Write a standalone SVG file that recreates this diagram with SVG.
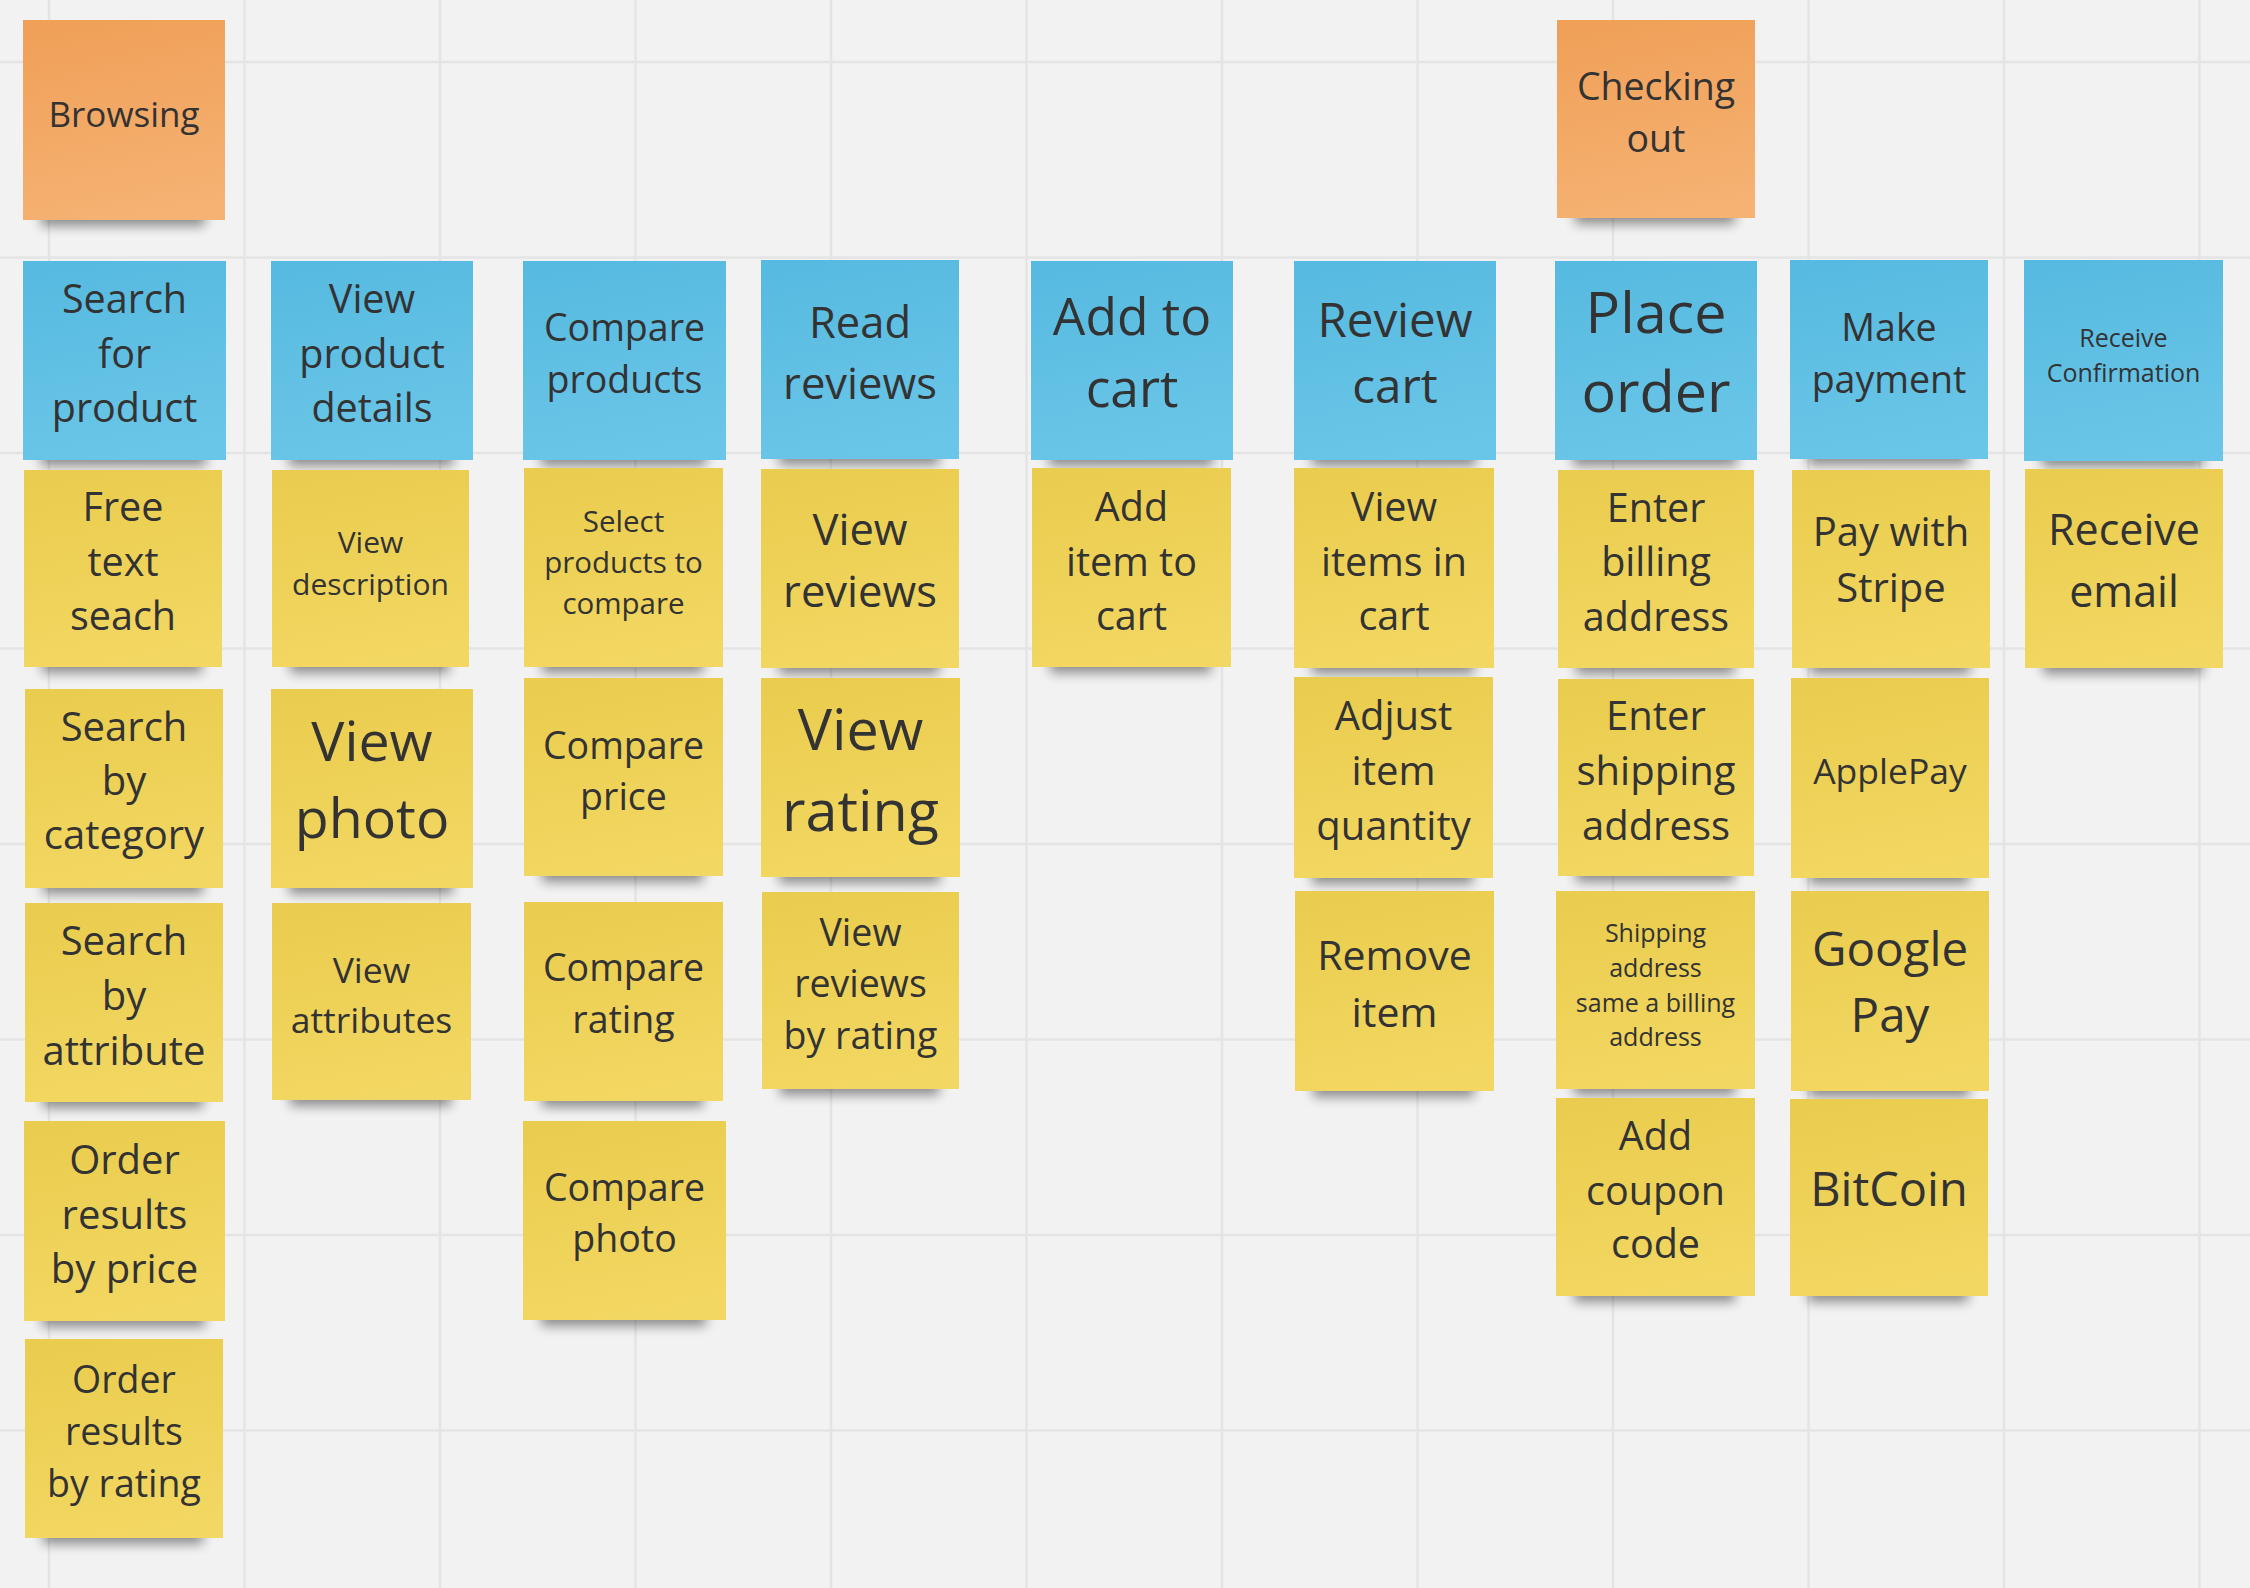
<svg xmlns="http://www.w3.org/2000/svg" width="2250" height="1588" viewBox="0 0 2250 1588">
<defs>
<linearGradient id="gO" x1="0.3" y1="0" x2="0.5" y2="1"><stop offset="0" stop-color="#f0a058"/><stop offset="1" stop-color="#f5b273"/></linearGradient>
<linearGradient id="gB" x1="0.3" y1="0" x2="0.5" y2="1"><stop offset="0" stop-color="#57bae0"/><stop offset="1" stop-color="#6ac6e8"/></linearGradient>
<linearGradient id="gY" x1="0.3" y1="0" x2="0.5" y2="1"><stop offset="0" stop-color="#eacd4e"/><stop offset="1" stop-color="#f2d762"/></linearGradient>
<filter id="blur" x="-20%" y="-100%" width="140%" height="300%"><feGaussianBlur stdDeviation="6"/></filter>
</defs>
<style>
.bg{fill:#f2f2f2}
.grid line{stroke:#e4e4e4;stroke-width:2.5}
.o{fill:url(#gO)}
.b{fill:url(#gB)}
.y{fill:url(#gY)}
.sh{fill:#000;opacity:.42;filter:url(#blur)}
text{font-family:"Open Sans","Noto Sans","DejaVu Sans",sans-serif;fill:#333;text-anchor:middle}
</style>
<rect class="bg" x="0" y="0" width="2250" height="1588"/>
<g class="grid">
<line x1="49" y1="0" x2="49" y2="1588"/>
<line x1="244.5" y1="0" x2="244.5" y2="1588"/>
<line x1="440" y1="0" x2="440" y2="1588"/>
<line x1="635.5" y1="0" x2="635.5" y2="1588"/>
<line x1="831" y1="0" x2="831" y2="1588"/>
<line x1="1026.5" y1="0" x2="1026.5" y2="1588"/>
<line x1="1222" y1="0" x2="1222" y2="1588"/>
<line x1="1417.5" y1="0" x2="1417.5" y2="1588"/>
<line x1="1613" y1="0" x2="1613" y2="1588"/>
<line x1="1808.5" y1="0" x2="1808.5" y2="1588"/>
<line x1="2004" y1="0" x2="2004" y2="1588"/>
<line x1="2199.5" y1="0" x2="2199.5" y2="1588"/>
<line x1="0" y1="62" x2="2250" y2="62"/>
<line x1="0" y1="257.5" x2="2250" y2="257.5"/>
<line x1="0" y1="453" x2="2250" y2="453"/>
<line x1="0" y1="648.5" x2="2250" y2="648.5"/>
<line x1="0" y1="844" x2="2250" y2="844"/>
<line x1="0" y1="1039.5" x2="2250" y2="1039.5"/>
<line x1="0" y1="1235" x2="2250" y2="1235"/>
<line x1="0" y1="1430.5" x2="2250" y2="1430.5"/>
</g>
<g id="connectors"/>

<g id="browsing"><rect class="sh" x="41" y="206" width="164" height="20"/><rect class="o" x="23" y="20" width="202" height="200"/><text font-size="35"><tspan x="124" y="127">Browsing</tspan></text></g>
<g id="checking-out"><rect class="sh" x="1575" y="204" width="160" height="20"/><rect class="o" x="1557" y="20" width="198" height="198"/><text font-size="37.5"><tspan x="1656" y="100">Checking</tspan><tspan x="1656" y="152">out</tspan></text></g>

<g id="search-for-product"><rect class="sh" x="41" y="446" width="165" height="20"/><rect class="b" x="23" y="261" width="203" height="199"/><text font-size="39.5"><tspan x="124.5" y="313">Search</tspan><tspan x="124.5" y="367.5">for</tspan><tspan x="124.5" y="422">product</tspan></text></g>
<g id="view-product-details"><rect class="sh" x="289" y="446" width="164" height="20"/><rect class="b" x="271" y="261" width="202" height="199"/><text font-size="39.5"><tspan x="372" y="313">View</tspan><tspan x="372" y="367.5">product</tspan><tspan x="372" y="422">details</tspan></text></g>
<g id="compare-products"><rect class="sh" x="541" y="446" width="165" height="20"/><rect class="b" x="523" y="261" width="203" height="199"/><text font-size="37.5"><tspan x="624.5" y="341">Compare</tspan><tspan x="624.5" y="393">products</tspan></text></g>
<g id="read-reviews"><rect class="sh" x="779" y="445" width="160" height="20"/><rect class="b" x="761" y="260" width="198" height="199"/><text font-size="43.5"><tspan x="860" y="338">Read</tspan><tspan x="860" y="399">reviews</tspan></text></g>
<g id="add-to-cart"><rect class="sh" x="1049" y="446" width="164" height="20"/><rect class="b" x="1031" y="261" width="202" height="199"/><text font-size="51.5"><tspan x="1132" y="335">Add to</tspan><tspan x="1132" y="407">cart</tspan></text></g>
<g id="review-cart"><rect class="sh" x="1312" y="446" width="164" height="20"/><rect class="b" x="1294" y="261" width="202" height="199"/><text font-size="47.5"><tspan x="1395" y="337">Review</tspan><tspan x="1395" y="403">cart</tspan></text></g>
<g id="place-order"><rect class="sh" x="1573" y="446" width="164" height="20"/><rect class="b" x="1555" y="261" width="202" height="199"/><text font-size="57.5"><tspan x="1656" y="333">Place</tspan><tspan x="1656" y="412">order</tspan></text></g>
<g id="make-payment"><rect class="sh" x="1808" y="445" width="160" height="20"/><rect class="b" x="1790" y="260" width="198" height="199"/><text font-size="37.5"><tspan x="1889" y="341">Make</tspan><tspan x="1889" y="393">payment</tspan></text></g>
<g id="receive-confirmation"><rect class="sh" x="2042" y="447" width="161" height="20"/><rect class="b" x="2024" y="260" width="199" height="201"/><text font-size="25"><tspan x="2123.5" y="347">Receive</tspan><tspan x="2123.5" y="382">Confirmation</tspan></text></g>

<g id="free-text-seach"><rect class="sh" x="42" y="653" width="160" height="20"/><rect class="y" x="24" y="470" width="198" height="197"/><text font-size="39.5"><tspan x="123" y="521">Free</tspan><tspan x="123" y="575.5">text</tspan><tspan x="123" y="630">seach</tspan></text></g>
<g id="view-description"><rect class="sh" x="290" y="653" width="159" height="20"/><rect class="y" x="272" y="470" width="197" height="197"/><text font-size="30"><tspan x="370.5" y="553">View</tspan><tspan x="370.5" y="594.5">description</tspan></text></g>
<g id="select-products-to-compare"><rect class="sh" x="542" y="653" width="161" height="20"/><rect class="y" x="524" y="468" width="199" height="199"/><text font-size="29.5"><tspan x="623.5" y="532">Select</tspan><tspan x="623.5" y="573">products to</tspan><tspan x="623.5" y="614">compare</tspan></text></g>
<g id="view-reviews"><rect class="sh" x="779" y="654" width="160" height="20"/><rect class="y" x="761" y="469" width="198" height="199"/><text font-size="43.5"><tspan x="860" y="545">View</tspan><tspan x="860" y="607">reviews</tspan></text></g>
<g id="add-item-to-cart"><rect class="sh" x="1050" y="653" width="161" height="20"/><rect class="y" x="1032" y="468" width="199" height="199"/><text font-size="39.5"><tspan x="1131.5" y="521">Add</tspan><tspan x="1131.5" y="575.5">item to</tspan><tspan x="1131.5" y="630">cart</tspan></text></g>
<g id="view-items-in-cart"><rect class="sh" x="1312" y="654" width="162" height="20"/><rect class="y" x="1294" y="468" width="200" height="200"/><text font-size="39.5"><tspan x="1394" y="521">View</tspan><tspan x="1394" y="575.5">items in</tspan><tspan x="1394" y="630">cart</tspan></text></g>
<g id="enter-billing-address"><rect class="sh" x="1576" y="654" width="158" height="20"/><rect class="y" x="1558" y="470" width="196" height="198"/><text font-size="39.5"><tspan x="1656" y="521.5">Enter</tspan><tspan x="1656" y="576">billing</tspan><tspan x="1656" y="630.5">address</tspan></text></g>
<g id="pay-with-stripe"><rect class="sh" x="1810" y="654" width="160" height="20"/><rect class="y" x="1792" y="470" width="198" height="198"/><text font-size="40"><tspan x="1891" y="546">Pay with</tspan><tspan x="1891" y="602">Stripe</tspan></text></g>
<g id="receive-email"><rect class="sh" x="2043" y="654" width="160" height="20"/><rect class="y" x="2025" y="469" width="198" height="199"/><text font-size="43"><tspan x="2124" y="545">Receive</tspan><tspan x="2124" y="607">email</tspan></text></g>

<g id="search-by-category"><rect class="sh" x="43" y="874" width="160" height="20"/><rect class="y" x="25" y="689" width="198" height="199"/><text font-size="40"><tspan x="124" y="741">Search</tspan><tspan x="124" y="795">by</tspan><tspan x="124" y="849">category</tspan></text></g>
<g id="view-photo"><rect class="sh" x="289" y="874" width="164" height="20"/><rect class="y" x="271" y="689" width="202" height="199"/><text font-size="55.5"><tspan x="372" y="760.5">View</tspan><tspan x="372" y="837.5">photo</tspan></text></g>
<g id="compare-price"><rect class="sh" x="542" y="862" width="161" height="20"/><rect class="y" x="524" y="678" width="199" height="198"/><text font-size="37.5"><tspan x="623.5" y="759">Compare</tspan><tspan x="623.5" y="810">price</tspan></text></g>
<g id="view-rating"><rect class="sh" x="779" y="863" width="161" height="20"/><rect class="y" x="761" y="678" width="199" height="199"/><text font-size="57.5"><tspan x="860.5" y="750">View</tspan><tspan x="860.5" y="831">rating</tspan></text></g>
<g id="adjust-item-quantity"><rect class="sh" x="1312" y="864" width="161" height="20"/><rect class="y" x="1294" y="677" width="199" height="201"/><text font-size="40"><tspan x="1393.5" y="730">Adjust</tspan><tspan x="1393.5" y="785">item</tspan><tspan x="1393.5" y="840">quantity</tspan></text></g>
<g id="enter-shipping-address"><rect class="sh" x="1576" y="862" width="158" height="20"/><rect class="y" x="1558" y="679" width="196" height="197"/><text font-size="40"><tspan x="1656" y="730">Enter</tspan><tspan x="1656" y="785">shipping</tspan><tspan x="1656" y="840">address</tspan></text></g>
<g id="applepay"><rect class="sh" x="1809" y="864" width="160" height="20"/><rect class="y" x="1791" y="678" width="198" height="200"/><text font-size="35.5"><tspan x="1890" y="784">ApplePay</tspan></text></g>

<g id="search-by-attribute"><rect class="sh" x="43" y="1088" width="160" height="20"/><rect class="y" x="25" y="903" width="198" height="199"/><text font-size="40"><tspan x="124" y="955">Search</tspan><tspan x="124" y="1010">by</tspan><tspan x="124" y="1065">attribute</tspan></text></g>
<g id="view-attributes"><rect class="sh" x="290" y="1086" width="161" height="20"/><rect class="y" x="272" y="903" width="199" height="197"/><text font-size="35.5"><tspan x="371.5" y="983">View</tspan><tspan x="371.5" y="1033">attributes</tspan></text></g>
<g id="compare-rating"><rect class="sh" x="542" y="1087" width="161" height="20"/><rect class="y" x="524" y="902" width="199" height="199"/><text font-size="37.5"><tspan x="623.5" y="981">Compare</tspan><tspan x="623.5" y="1033">rating</tspan></text></g>
<g id="view-reviews-by-rating"><rect class="sh" x="780" y="1075" width="159" height="20"/><rect class="y" x="762" y="892" width="197" height="197"/><text font-size="37.5"><tspan x="860.5" y="945.5">View</tspan><tspan x="860.5" y="997">reviews</tspan><tspan x="860.5" y="1049">by rating</tspan></text></g>
<g id="remove-item"><rect class="sh" x="1313" y="1077" width="161" height="20"/><rect class="y" x="1295" y="891" width="199" height="200"/><text font-size="41"><tspan x="1394.5" y="970">Remove</tspan><tspan x="1394.5" y="1027">item</tspan></text></g>
<g id="shipping-same-as-billing"><rect class="sh" x="1574" y="1075" width="161" height="20"/><rect class="y" x="1556" y="891" width="199" height="198"/><text font-size="25"><tspan x="1655.5" y="942">Shipping</tspan><tspan x="1655.5" y="977">address</tspan><tspan x="1655.5" y="1011.5">same a billing</tspan><tspan x="1655.5" y="1045.5">address</tspan></text></g>
<g id="google-pay"><rect class="sh" x="1809" y="1077" width="160" height="20"/><rect class="y" x="1791" y="891" width="198" height="200"/><text font-size="47.5"><tspan x="1890" y="966">Google</tspan><tspan x="1890" y="1032">Pay</tspan></text></g>

<g id="order-results-by-price"><rect class="sh" x="42" y="1307" width="163" height="20"/><rect class="y" x="24" y="1121" width="201" height="200"/><text font-size="40"><tspan x="124.5" y="1174">Order</tspan><tspan x="124.5" y="1228.5">results</tspan><tspan x="124.5" y="1283">by price</tspan></text></g>
<g id="compare-photo"><rect class="sh" x="541" y="1306" width="165" height="20"/><rect class="y" x="523" y="1121" width="203" height="199"/><text font-size="37.5"><tspan x="624.5" y="1201">Compare</tspan><tspan x="624.5" y="1252">photo</tspan></text></g>
<g id="add-coupon-code"><rect class="sh" x="1574" y="1282" width="161" height="20"/><rect class="y" x="1556" y="1098" width="199" height="198"/><text font-size="39.5"><tspan x="1655.5" y="1150">Add</tspan><tspan x="1655.5" y="1205">coupon</tspan><tspan x="1655.5" y="1258">code</tspan></text></g>
<g id="bitcoin"><rect class="sh" x="1808" y="1282" width="160" height="20"/><rect class="y" x="1790" y="1099" width="198" height="197"/><text font-size="47"><tspan x="1889" y="1206">BitCoin</tspan></text></g>

<g id="order-results-by-rating"><rect class="sh" x="43" y="1524" width="160" height="20"/><rect class="y" x="25" y="1339" width="198" height="199"/><text font-size="37.5"><tspan x="124" y="1393">Order</tspan><tspan x="124" y="1445">results</tspan><tspan x="124" y="1497">by rating</tspan></text></g>
</svg>
